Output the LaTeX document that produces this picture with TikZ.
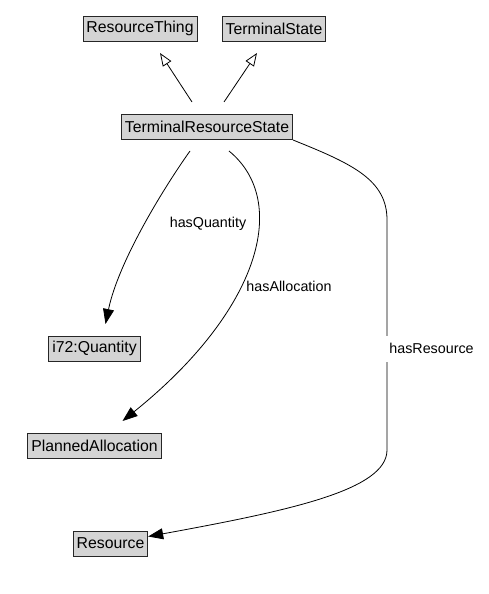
\documentclass[tikz,border=0pt]{standalone}
\usepackage{fontspec}
\setmainfont{Liberation Sans}
\usetikzlibrary{arrows.meta}
\begin{document}
\begin{tikzpicture}[x=1pt,y=-1pt,
cls/.style={draw=black!85,fill=black!17,line width=.7pt,inner xsep=3.5pt,minimum height=25pt,outer ysep=12pt,font=\fontsize{15.8}{18}\selectfont},
lbl/.style={font=\fontsize{14.3}{17}\selectfont,inner sep=1pt},
isa/.style={-{Triangle[open,length=13pt,width=10pt]},line width=.8pt},
rel/.style={-{Triangle[length=15pt,width=11pt]},line width=.8pt}]
\useasboundingbox[fill=white](0,0)rectangle(488,594);
\node[cls](rthing)at(140,28.5){ResourceThing};
\node[cls](tstate)at(274,28.5){TerminalState};
\node[cls](trs)at(207,126.5){TerminalResourceState};
\node[cls](qty)at(94.5,348.5){i72:Quantity};
\node[cls](plan)at(94.5,445.5){PlannedAllocation};
\node[cls](res)at(110.5,543.5){Resource};
\draw[isa]([xshift=-15pt]trs.north)--([xshift=20pt]rthing.south);
\draw[isa]([xshift=17pt]trs.north)--([xshift=-17pt]tstate.south);
\draw[rel]([xshift=-17pt]trs.south)..controls +(-25,35) and +(13,-63)..([xshift=11pt]qty.north);
\draw[rel]([xshift=22pt]trs.south)..controls +(61,50) and +(138,-111)..([xshift=28pt]plan.north);
\draw[rel]([yshift=11pt]trs.south east)..controls +(60,24) and +(0,-40)..(387,220)--node[lbl,fill=white,anchor=west,pos=.56,xshift=-2pt,inner xsep=4pt,inner ysep=8pt](lres){hasResource}(387,450)..controls +(0,40) and +(142,-26)..([yshift=7pt]res.east);
\node[lbl](lqty)at(208,224){hasQuantity};
\node[lbl](lalloc)at(289,286){hasAllocation};
\end{tikzpicture}
\end{document}
